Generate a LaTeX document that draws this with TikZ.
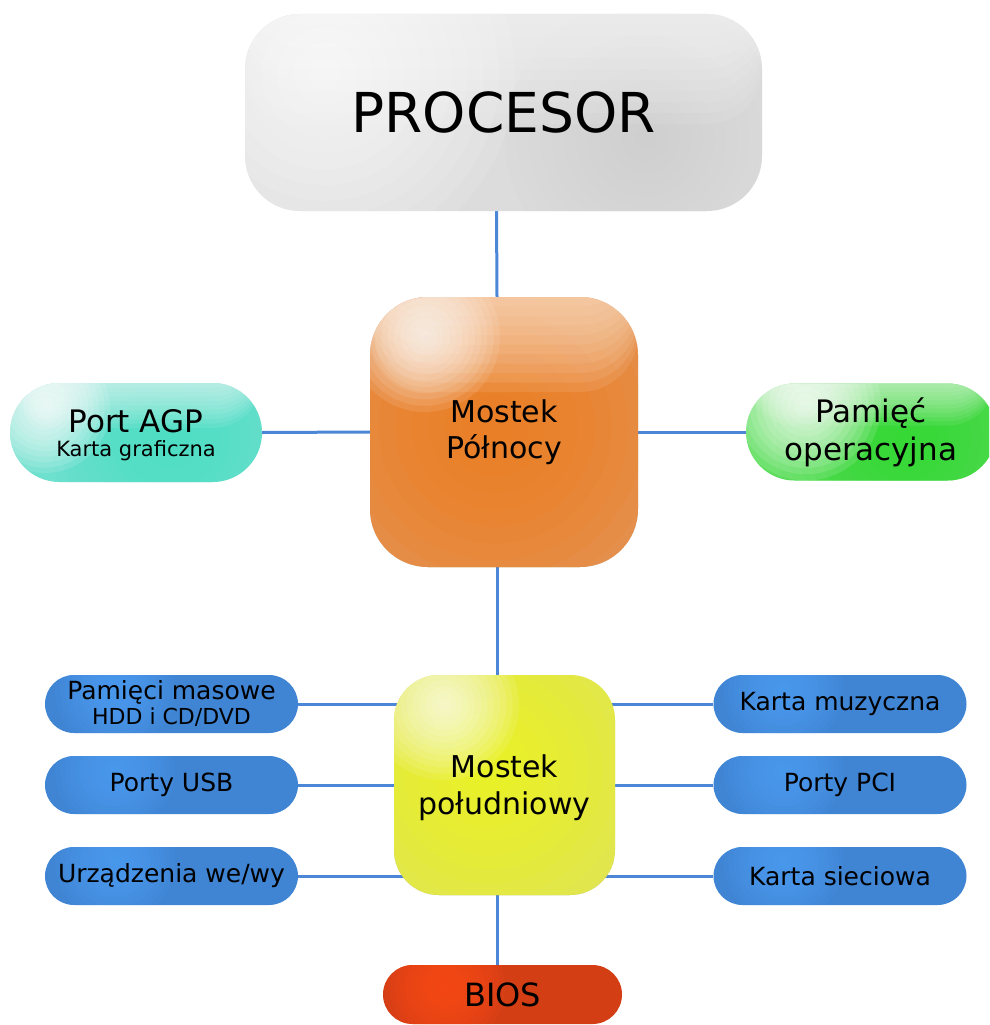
\documentclass[tikz,border=0pt]{standalone}
\usepackage{fontspec}
\setmainfont{DejaVu Sans}
\usetikzlibrary{backgrounds}
\definecolor{linec}{RGB}{76,134,214}
\definecolor{procbase}{RGB}{220,220,220}
\definecolor{procdark}{RGB}{200,200,200}
\definecolor{orbase}{RGB}{226,150,92}
\definecolor{orcore}{RGB}{240,126,30}
\definecolor{orpeach}{RGB}{252,224,198}
\definecolor{tealbase}{RGB}{110,224,206}
\definecolor{tealcore}{RGB}{64,222,196}
\definecolor{greenbase}{RGB}{92,222,92}
\definecolor{greencore}{RGB}{44,216,44}
\definecolor{yelbase}{RGB}{222,226,92}
\definecolor{yelcore}{RGB}{240,248,30}
\definecolor{bluebase}{RGB}{64,132,212}
\definecolor{bluehi}{RGB}{80,164,250}
\definecolor{biosbase}{RGB}{212,62,20}
\definecolor{bioshi}{RGB}{255,78,28}
% soft glow: colour, dx, dy, radius, opacity per step
\newcommand\mkglow[5]{\foreach \k in {1,...,12}{\fill[#1,opacity=#5] ([shift={(#2,#3)}]path picture bounding box.north west) circle[radius=#4*\k/12];}}
% soft top band: colour, height, width, opacity per step
\newcommand\mkband[4]{\foreach \k in {1,...,10}{\fill[#1,opacity=#4] (path picture bounding box.north west) rectangle ([shift={(#3,#2*\k/10)}]path picture bounding box.north west);}}
% soft bottom band: colour, top y, full height, width, opacity
\newcommand\mkbotband[5]{\foreach \k in {0,...,9}{\fill[#1,opacity=#5] ([shift={(0,#2+(#3-#2)*\k/10)}]path picture bounding box.north west) rectangle ([shift={(#4,#3)}]path picture bounding box.north west);}}
\tikzset{
  conn/.style={draw=linec, line width=3pt},
  box/.style={inner sep=0pt, align=center, text=black},
  procbox/.style={box, rounded corners=55pt, minimum width=517pt, minimum height=197pt,
    fill=procbase, font=\fontsize{55}{60}\selectfont,
    path picture={
      \mkglow{procdark}{400}{125}{140}{0.05}
      \mkband{white}{110}{517}{0.08}
      \mkglow{white}{80}{60}{190}{0.1}
    }},
  northbox/.style={box, rounded corners=58pt, minimum width=268pt, minimum height=270pt,
    fill=orbase, font=\fontsize{30}{36}\selectfont,
    path picture={
      \mkglow{orcore}{125}{130}{200}{0.13}
      \mkband{orpeach}{95}{268}{0.12}
      \mkglow{white}{55}{40}{75}{0.1}
      \mkbotband{orbase}{190}{270}{268}{0.1}
    }},
  southbox/.style={box, rounded corners=45pt, minimum width=221pt, minimum height=220pt,
    fill=yelbase, font=\fontsize{30}{37}\selectfont,
    path picture={
      \mkglow{yelcore}{95}{95}{170}{0.12}
      \mkglow{white}{50}{30}{75}{0.1}
      \mkbotband{yelbase}{150}{220}{221}{0.1}
    }},
  agpbox/.style={box, rounded corners=49.5pt, minimum width=252pt, minimum height=99pt,
    fill=tealbase, font=\fontsize{21}{24}\selectfont,
    path picture={
      \mkglow{tealcore}{160}{55}{120}{0.08}
      \mkband{white}{45}{252}{0.08}
      \mkglow{white}{35}{25}{65}{0.12}
    }},
  rambox/.style={box, rounded corners=48.5pt, minimum width=250pt, minimum height=97pt,
    fill=greenbase, font=\fontsize{31}{38}\selectfont,
    path picture={
      \mkglow{greencore}{160}{55}{130}{0.1}
      \mkband{white}{42}{250}{0.08}
      \mkglow{white}{60}{22}{75}{0.12}
    }},
  pill/.style={box, rounded corners=29pt, minimum width=253pt, minimum height=58pt,
    fill=bluebase, font=\fontsize{25}{30}\selectfont,
    path picture={
      \mkglow{bluehi}{70}{15}{60}{0.1}
    }},
  biosbox/.style={box, rounded corners=29.5pt, minimum width=239pt, minimum height=59pt,
    fill=biosbase, font=\fontsize{32}{36}\selectfont,
    path picture={
      \mkglow{bioshi}{62}{22}{60}{0.12}
    }},
}
\begin{document}
\begin{tikzpicture}[x=1pt,y=-1pt]
\useasboundingbox (0,0) rectangle (989,1025);
\clip (0,0) rectangle (989,1025);
\node[procbox] (proc) at (503.5,112.5) {PROCESOR};
\node[northbox] (north) at (504,432) {Mostek\\Północy};
\node[agpbox] (agp) at (136,432.5) {\raisebox{-4pt}[\height][\depth]{\begin{tabular}{@{}c@{}}{\fontsize{31}{31}\selectfont Port AGP}\\Karta graficzna\end{tabular}}};
\node[rambox] (ram) at (871,432) {Pamięć\\operacyjna};
\node[southbox] (south) at (504.5,785) {\raisebox{-4pt}[\height][\depth]{\begin{tabular}{@{}c@{}}Mostek\\południowy\end{tabular}}};
\node[pill, font=\fontsize{22}{25}\selectfont] (l1) at (171.5,704) {{\fontsize{25}{25}\selectfont Pamięci masowe}\\HDD i CD/DVD};
\node[pill] (l2) at (171.5,785) {Porty USB};
\node[pill] (l3) at (171.5,876) {Urządzenia we/wy};
\node[pill] (r1) at (840,704) {Karta muzyczna};
\node[pill] (r2) at (840,785) {Porty PCI};
\node[pill] (r3) at (840,876) {Karta sieciowa};
\node[biosbox] (bios) at (502.5,994.5) {BIOS};
\begin{scope}[on background layer]
\fill[white] (0,0) rectangle (989,1025);
\draw[conn] ([xshift=-7pt]proc.south) -- ([xshift=-7pt]north.north);
\draw[conn] ([xshift=-7pt]north.south) -- ([xshift=-7.5pt]south.north);
\draw[conn] ([xshift=-7.5pt]south.south) -- ([xshift=-5.5pt]bios.north);
\draw[conn] (agp.east) -- (north.west);
\draw[conn] (north.east) -- (ram.west);
\draw[conn] (l1.east) -- (l1.east -| south.center);
\draw[conn] (l2.east) -- (l2.east -| south.center);
\draw[conn] (l3.east) -- (l3.east -| south.center);
\draw[conn] (r1.west) -- (r1.west -| south.center);
\draw[conn] (r2.west) -- (r2.west -| south.center);
\draw[conn] (r3.west) -- (r3.west -| south.center);
\end{scope}
\end{tikzpicture}
\end{document}
